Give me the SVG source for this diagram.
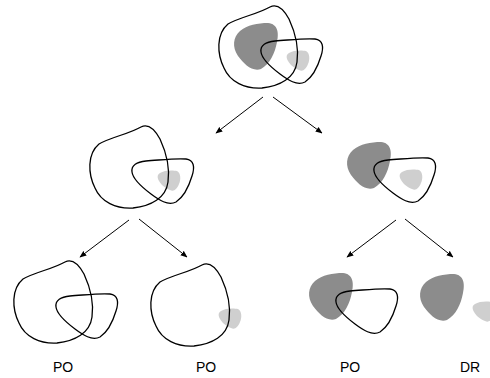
<svg xmlns="http://www.w3.org/2000/svg" xmlns:xlink="http://www.w3.org/1999/xlink" width="490" height="378" viewBox="0 0 490 378">
<style>
.outline{fill:none;stroke:#000;stroke-width:1.3;stroke-linejoin:round}
.dark{fill:#8c8c8c;stroke:none}
.light{fill:#cfcfcf;stroke:none}
.conn{stroke:#000;stroke-width:1;fill:none;marker-end:url(#arr)}
.lbl{font-family:"Liberation Sans",Arial,sans-serif;font-size:14px;fill:#000;text-anchor:middle}
</style>
<defs>
<marker id="arr" viewBox="0 0 10 10" refX="9" refY="5" markerWidth="7" markerHeight="7" markerUnits="userSpaceOnUse" orient="auto">
<path d="M0,1 L10,5 L0,9 Z" fill="#000"/>
</marker>
<path id="big" d="M 228,24 C 240,17 258,14 270,7 C 278,3 284,10 289,19 C 295,32 299,48 297,62 C 295,78 280,86 262,88 C 245,89 230,82 224,68 C 217,54 216,34 228,24 Z"/>
<path id="small" d="M 261,52 C 260,45 266,42 275,41 C 290,40 305,38 315,39 C 323,40 324,47 321,56 C 318,66 314,76 305,82 C 297,86 288,80 280,74 C 272,68 262,60 261,52 Z"/>
<path id="darkb" d="M 240,31 C 247,25 258,23 268,23 C 278,24 279,33 277,42 C 275,53 270,64 261,69 C 252,72 244,64 238,56 C 232,47 233,37 240,31 Z"/>
<path id="lightb" d="M 289,53 C 293,50 302,50 306,51 C 310,53 310,60 308,64 C 306,69 303,72 299,70 C 294,68 289,64 287,59 C 286,56 287,54 289,53 Z"/>
</defs>
<g id="connectors">
<line class="conn" x1="263" y1="97" x2="216" y2="133"/>
<line class="conn" x1="273" y1="97" x2="322" y2="133"/>
<line class="conn" x1="129" y1="220" x2="80" y2="257"/>
<line class="conn" x1="139" y1="219" x2="187" y2="257"/>
<line class="conn" x1="396" y1="220" x2="347" y2="257"/>
<line class="conn" x1="405" y1="219" x2="453" y2="257"/>
</g>
<g id="node-top">
<use xlink:href="#darkb" class="dark"/>
<use xlink:href="#lightb" class="light"/>
<use xlink:href="#big" class="outline"/>
<use xlink:href="#small" class="outline"/>
</g>
<g id="node-mid-left" transform="translate(-129,120)">
<use xlink:href="#lightb" class="light"/>
<use xlink:href="#big" class="outline"/>
<use xlink:href="#small" class="outline"/>
</g>
<g id="node-mid-right" transform="translate(113,119)">
<use xlink:href="#darkb" class="dark"/>
<use xlink:href="#lightb" class="light"/>
<use xlink:href="#small" class="outline"/>
</g>
<g id="node-bl1" transform="translate(-205,255)">
<use xlink:href="#big" class="outline"/>
<use xlink:href="#small" class="outline"/>
</g>
<g id="node-bl2" transform="translate(-68,258)">
<use xlink:href="#lightb" class="light"/>
<use xlink:href="#big" class="outline"/>
</g>
<g id="node-br1" transform="translate(75,250)">
<use xlink:href="#darkb" class="dark"/>
<use xlink:href="#small" class="outline"/>
</g>
<g id="node-br2" transform="translate(186,251)">
<use xlink:href="#darkb" class="dark"/>
<use xlink:href="#lightb" class="light"/>
</g>
<g id="labels">
<text class="lbl" x="63" y="372">PO</text>
<text class="lbl" x="206" y="372">PO</text>
<text class="lbl" x="350" y="372">PO</text>
<text class="lbl" x="470" y="372">DR</text>
</g>
</svg>
